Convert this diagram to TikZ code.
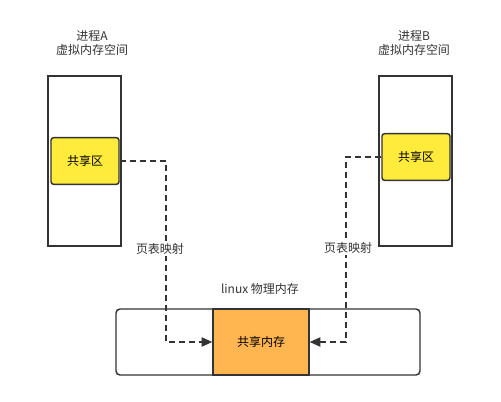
\documentclass[tikz,border=0pt]{standalone}
\usepackage{fontspec}
\setmainfont{Noto Sans CJK SC}
\usepackage{tikz}
\usetikzlibrary{arrows.meta,positioning}
\definecolor{shmyellow}{HTML}{FFEB3B}
\definecolor{shmorange}{HTML}{FFB550}
\definecolor{linegray}{HTML}{333333}
\tikzset{
  vmbox/.style={draw=linegray,line width=1.1pt,minimum width=54.75pt,minimum height=127.5pt,inner sep=0pt},
  shbox/.style={draw=linegray,line width=1.1pt,fill=shmyellow,rounded corners=2pt,minimum width=51pt,minimum height=35pt,inner sep=0pt,font=\small},
  physbox/.style={draw=linegray,line width=1.1pt,rounded corners=3pt,minimum width=228pt,minimum height=49.5pt,inner sep=0pt},
  shmbox/.style={draw=linegray,line width=1.1pt,fill=shmorange,minimum width=72pt,minimum height=49.5pt,inner sep=0pt,font=\small},
  lbl/.style={text=linegray,font=\small,align=center,inner sep=1pt},
  mapedge/.style={-{Triangle[length=8pt,width=7pt]},dash pattern=on 4.5pt off 3pt,line width=1.1pt,linegray},
}
\begin{document}
\begin{tikzpicture}[x=0.75pt,y=-0.75pt]
  \useasboundingbox (0,0) rectangle (501,401);
  % process A
  \node[vmbox] (vmA) at (84.5,161) {};
  \node[shbox] (shA) at (85,161) {共享区};
  \node[lbl] (tA) at (92,43) {进程A\\虚拟内存空间};
  % process B
  \node[vmbox] (vmB) at (415.5,161) {};
  \node[shbox] (shB) at (416,157) {共享区};
  \node[lbl] (tB) at (414,43) {进程B\\虚拟内存空间};
  % physical memory
  \node[physbox] (phys) at (268,342) {};
  \node[shmbox] (shm) at (261,342) {共享内存};
  \node[lbl] (tphys) at (260,289) {linux 物理内存};
  % mappings
  \coordinate (cA) at (166,161);
  \coordinate (cB) at (346,157);
  \draw[mapedge] (shA.east) -- (cA) |- (shm.west);
  \draw[mapedge] (shB.west) -- (cB) |- (shm.east);
  \node[lbl,fill=white] (mA) at (160,249) {页表映射};
  \node[lbl,fill=white] (mB) at (348,248) {页表映射};
\end{tikzpicture}
\end{document}
